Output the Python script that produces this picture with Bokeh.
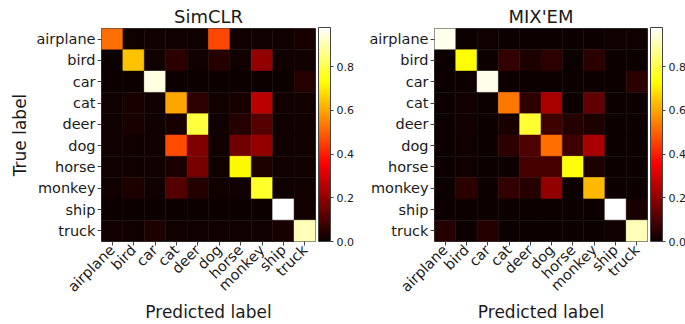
import math
import numpy as np
from bokeh.plotting import figure
from bokeh.models import (ColumnDataSource, LinearColorMapper, ColorBar,
                          FixedTicker, PrintfTickFormatter, FactorRange)
from bokeh.transform import transform
from bokeh.layouts import row
from bokeh.embed import file_html
from bokeh.resources import INLINE

labels = ["airplane", "bird", "car", "cat", "deer", "dog", "horse", "monkey", "ship", "truck"]

simclr = [
    [0.52, 0.01, 0.01, 0.01, 0.01, 0.46, 0.01, 0.01, 0.01, 0.02],
    [0.005, 0.64, 0.01, 0.05, 0.01, 0.04, 0.01, 0.20, 0.01, 0.01],
    [0.005, 0.005, 0.95, 0.005, 0.005, 0.005, 0.005, 0.005, 0.005, 0.04],
    [0.01, 0.02, 0.01, 0.60, 0.05, 0.01, 0.02, 0.26, 0.01, 0.01],
    [0.01, 0.02, 0.01, 0.02, 0.79, 0.01, 0.04, 0.11, 0.01, 0.01],
    [0.01, 0.01, 0.01, 0.47, 0.17, 0.01, 0.15, 0.20, 0.01, 0.01],
    [0.01, 0.01, 0.01, 0.025, 0.16, 0.01, 0.72, 0.03, 0.01, 0.01],
    [0.01, 0.03, 0.01, 0.11, 0.035, 0.01, 0.01, 0.77, 0.01, 0.01],
    [0.005, 0.005, 0.005, 0.005, 0.005, 0.005, 0.005, 0.005, 0.98, 0.015],
    [0.015, 0.01, 0.03, 0.01, 0.01, 0.01, 0.01, 0.01, 0.02, 0.91],
]

mixem = [
    [0.96, 0.005, 0.01, 0.005, 0.005, 0.005, 0.005, 0.005, 0.01, 0.01],
    [0.005, 0.73, 0.005, 0.06, 0.03, 0.05, 0.005, 0.05, 0.005, 0.005],
    [0.005, 0.005, 0.96, 0.005, 0.005, 0.005, 0.005, 0.005, 0.005, 0.05],
    [0.005, 0.015, 0.005, 0.53, 0.05, 0.23, 0.005, 0.13, 0.005, 0.005],
    [0.005, 0.015, 0.005, 0.02, 0.78, 0.08, 0.04, 0.03, 0.005, 0.005],
    [0.005, 0.01, 0.005, 0.05, 0.10, 0.52, 0.08, 0.23, 0.005, 0.005],
    [0.005, 0.01, 0.005, 0.005, 0.09, 0.09, 0.74, 0.03, 0.005, 0.005],
    [0.005, 0.05, 0.005, 0.06, 0.04, 0.20, 0.005, 0.63, 0.005, 0.005],
    [0.005, 0.005, 0.005, 0.005, 0.005, 0.005, 0.005, 0.005, 0.98, 0.02],
    [0.04, 0.005, 0.04, 0.005, 0.005, 0.005, 0.005, 0.005, 0.01, 0.91],
]

titles = ["SimCLR", "MIX'EM"]
x_title = "Predicted label"
y_title = "True label"
cbar_ticks = [0.0, 0.2, 0.4, 0.6, 0.8]
vmin, vmax = 0.0, 0.98
FONT = "DejaVu Sans"
TXT = "#1a1a1a"

H = 324
TOP = 28
FH = 214


def hot_palette(n=256):
    pal = []
    for i in range(n):
        x = i / (n - 1)
        r = np.interp(x, [0, 0.365079, 1], [0.0416, 1, 1])
        g = np.interp(x, [0, 0.365079, 0.746032, 1], [0, 0, 1, 1])
        b = np.interp(x, [0, 0.746032, 1], [0, 0, 1])
        pal.append("#%02x%02x%02x" % (int(round(r * 255)), int(round(g * 255)), int(round(b * 255))))
    return pal


palette = hot_palette()


def make(title, mat, width, left, fw, ylabel):
    xs, ys, vs = [], [], []
    for i, t in enumerate(labels):
        for j, pr in enumerate(labels):
            xs.append(pr)
            ys.append(t)
            vs.append(mat[i][j])
    src = ColumnDataSource(dict(x=xs, y=ys, v=vs))
    mapper = LinearColorMapper(palette=palette, low=vmin, high=vmax)
    right = width - left - fw
    p = figure(width=width, height=H,
               x_range=FactorRange(*labels),
               y_range=FactorRange(*reversed(labels)),
               output_backend="svg", toolbar_location=None,
               min_border_left=left, min_border_right=right,
               min_border_top=TOP, min_border_bottom=H - TOP - FH)
    p.rect(x="x", y="y", width=1, height=1, source=src,
           fill_color=transform("v", mapper),
           line_color=transform("v", mapper), line_width=0.5)
    p.title.text = title
    p.title.align = "center"
    p.title.text_font = FONT
    p.title.text_font_size = "18px"
    p.title.text_font_style = "normal"
    p.title.text_color = TXT
    p.title.standoff = 4
    p.xgrid.visible = False
    p.ygrid.visible = False
    p.outline_line_color = "#444444"
    p.outline_line_width = 1
    for ax in (p.xaxis[0], p.yaxis[0]):
        ax.axis_line_color = None
        ax.major_tick_in = 0
        ax.major_tick_out = 4
        ax.major_tick_line_color = "#444444"
        ax.minor_tick_line_color = None
        ax.major_label_text_font = FONT
        ax.major_label_text_font_size = "14.5px"
        ax.major_label_text_color = TXT
        ax.axis_label_text_font = FONT
        ax.axis_label_text_font_size = "17px"
        ax.axis_label_text_font_style = "normal"
        ax.axis_label_text_color = TXT
        ax.major_label_standoff = 2
    p.xaxis.major_label_orientation = math.pi / 4
    p.xaxis.axis_label = x_title
    p.xaxis.axis_label_standoff = -2
    if ylabel:
        p.yaxis.axis_label = y_title
        p.yaxis.axis_label_standoff = 3
    cb = ColorBar(color_mapper=mapper, width=12, height=FH,
                  location=(fw + 3, 0),
                  padding=0, margin=0,
                  ticker=FixedTicker(ticks=cbar_ticks),
                  formatter=PrintfTickFormatter(format="%.1f"),
                  major_label_text_font=FONT,
                  major_label_text_font_size="11px",
                  major_label_text_color=TXT,
                  major_tick_in=0, major_tick_out=3,
                  major_tick_line_color="#444444",
                  bar_line_color="#444444",
                  border_line_color=None,
                  background_fill_color=None,
                  label_standoff=3)
    p.add_layout(cb)
    return p


p1 = make(titles[0], simclr, 355, 101, 214, True)
p2 = make(titles[1], mixem, 330, 79, 213, False)
layout = row(p1, p2)

open("out.html", "w").write(file_html(layout, INLINE))
